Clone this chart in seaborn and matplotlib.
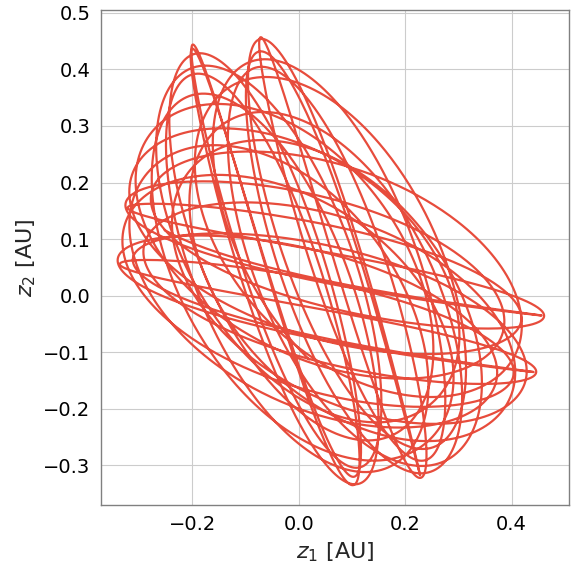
import numpy as np
import pandas as pd
import matplotlib
matplotlib.use("Agg")
import matplotlib.pyplot as plt
import seaborn as sns

# Fast modes (vector amplitudes in AU) read from the tips of the loops
fast_amp_z1 = [0.2685, 0.1185]
fast_amp_z2 = [-0.2405, 0.1455]
beat = 0.15                  # detuning between the two fast modes
# Slow drift of the loop centre: constant, cos, sin, cos(2x) terms
drift_z1 = [0.038, 0.0075, -0.064, 0.024]
drift_z2 = [0.036, 0.050, -0.0065, -0.026]
n_loops = 26
start_loop = -0.4
end_point = [-0.09, -0.23]   # where the drawn trajectory stops
xticks = [-0.2, 0.0, 0.2, 0.4]
yticks = [-0.3, -0.2, -0.1, 0.0, 0.1, 0.2, 0.3, 0.4, 0.5]

t = np.linspace(2 * np.pi * start_loop, 2 * np.pi * (start_loop + n_loops + 1), 10000)
th = beat * t / 2
basis = [np.ones_like(t), np.cos(th), np.sin(th), np.cos(2 * th)]
z1 = sum(c * b for c, b in zip(drift_z1, basis))
z2 = sum(c * b for c, b in zip(drift_z2, basis))
z1 = z1 + fast_amp_z1[0] * np.cos(t) + fast_amp_z1[1] * np.cos((1 + beat) * t)
z2 = z2 + fast_amp_z2[0] * np.cos(t) + fast_amp_z2[1] * np.cos((1 + beat) * t)
# stop the orbit in its last loops where it passes closest to the end point
win = t > 2 * np.pi * (start_loop + n_loops - 1)
dist = np.hypot(z1 - end_point[0], z2 - end_point[1])
dist[~win] = np.inf
stop = int(np.argmin(dist)) + 1
df = pd.DataFrame({"z1": z1[:stop], "z2": z2[:stop], "t": t[:stop]})

sns.set_style("whitegrid")
plt.rcParams['font.family'] = ['DejaVu Sans']
fig = plt.figure(figsize=(5.72, 5.69), dpi=100)
ax = fig.add_axes([101 / 572, 64 / 569, 468 / 572, 495 / 569])
sns.lineplot(data=df, x="z1", y="z2", sort=False, estimator=None,
             color="#e74c3c", lw=1.6, ax=ax)
ax.set_xticks(xticks)
ax.set_yticks(yticks)
ax.set_xlim(-0.372, 0.508)
ax.set_ylim(-0.37, 0.505)
ax.grid(True, color="#cccccc", lw=0.8)
for s in ax.spines.values():
    s.set_color("#808080")
    s.set_linewidth(1.0)
ax.tick_params(axis="both", labelsize=14, length=4, color="#808080", labelcolor="black")
ax.set_xlabel(r"$z_1$ [AU]", fontsize=16)
ax.set_ylabel(r"$z_2$ [AU]", fontsize=16)
fig.savefig("out.png", dpi=100)
